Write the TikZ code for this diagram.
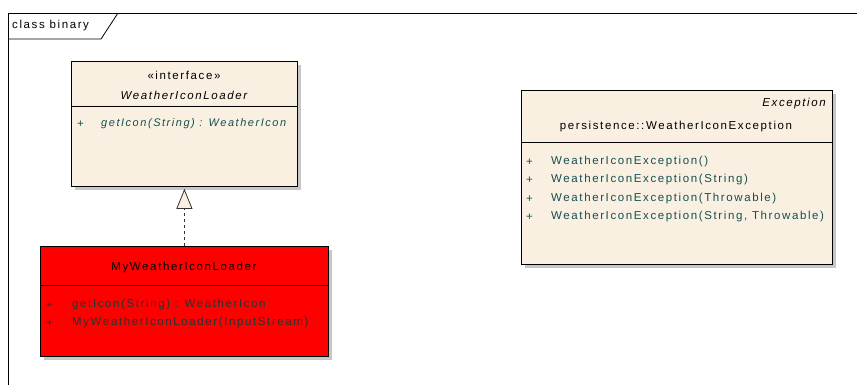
\documentclass[tikz,border=0pt]{standalone}
\usepackage{fontspec}
\setmainfont{Liberation Sans}[LetterSpace=14]
\usetikzlibrary{arrows.meta}
\usetikzlibrary{shadows}
\definecolor{classbg}{RGB}{249,240,226}
\definecolor{optext}{RGB}{20,80,80}
\definecolor{impltext}{RGB}{40,50,50}
\definecolor{implbg}{RGB}{255,0,0}
\tikzset{classbox/.style={draw=black, line width=0.8pt, fill=classbg, anchor=north west,
  inner sep=0pt, drop shadow={shadow xshift=4pt, shadow yshift=-4pt, fill=black!22, opacity=1}}}
\tikzset{lbl/.style={inner sep=0pt, font=\fontsize{11.5}{13}\selectfont}}
\tikzset{op/.style={lbl, anchor=west, text=optext}}

\begin{document}
\begin{tikzpicture}[x=1pt, y=-1pt]
      \useasboundingbox (0,0) rectangle (857,385);

      \draw [line width=0.8pt] (857,13) -- (8,13) -- (8,385);
      \draw [line width=0.8pt] (8,39) -- (101,39) -- (118,13);
      \node [lbl, anchor=west] (frame) at (12,26) {class binary};

      \node [classbox, minimum width=226pt, minimum height=125pt] (iface) at (71,61) {};
      \draw [line width=0.8pt] (71,106) -- (297,106);
      \node [lbl] (stereo) at (184,75) {«interface»};
      \node [lbl, font=\fontsize{11.5}{13}\selectfont\itshape] (ifname) at (184,95) {WeatherIconLoader};
      \node [op] (plusa) at (77,124) {+};
      \node [op, font=\fontsize{11}{13}\selectfont\itshape] (geticon) at (101,124) {getIcon(String) : WeatherIcon};

      \node [classbox, fill=implbg, minimum width=288pt, minimum height=110pt] (impl) at (40,246) {};
      \draw [line width=0.8pt] (40,285) -- (328,285);
      \node [lbl] (implname) at (184,268) {MyWeatherIconLoader};
      \node [op, text=impltext] (plusb) at (46,305) {+};
      \node [op, text=impltext] (implget) at (72,305) {getIcon(String) : WeatherIcon};
      \node [op, text=impltext] (plusc) at (46,323) {+};
      \node [op, text=impltext] (implctor) at (72,323) {MyWeatherIconLoader(InputStream)};

      \draw [dashed, dash pattern=on 3pt off 3pt, line width=0.9pt, black!80,
        -{Triangle[length=20pt, width=16pt, fill=classbg, line width=0.8pt]}, shorten >=2pt]
        (impl.north) -- (iface.south);

      \node [classbox, minimum width=311pt, minimum height=174pt] (exc) at (521,90) {};
      \draw [line width=0.8pt] (521,142) -- (832,142);
      \node [lbl, anchor=east, font=\fontsize{11.5}{13}\selectfont\itshape] (parent) at (826,104) {Exception};
      \node [lbl] (excname) at (676,127) {persistence::WeatherIconException};
      \node [op] (plusd) at (526,162) {+};
      \node [op] (ctora) at (551,162) {WeatherIconException()};
      \node [op] (pluse) at (526,180) {+};
      \node [op] (ctorb) at (551,180) {WeatherIconException(String)};
      \node [op] (plusf) at (526,199) {+};
      \node [op] (ctorc) at (551,199) {WeatherIconException(Throwable)};
      \node [op] (plusg) at (526,217) {+};
      \node [op] (ctord) at (551,217) {WeatherIconException(String, Throwable)};
    \end{tikzpicture}
\end{document}
